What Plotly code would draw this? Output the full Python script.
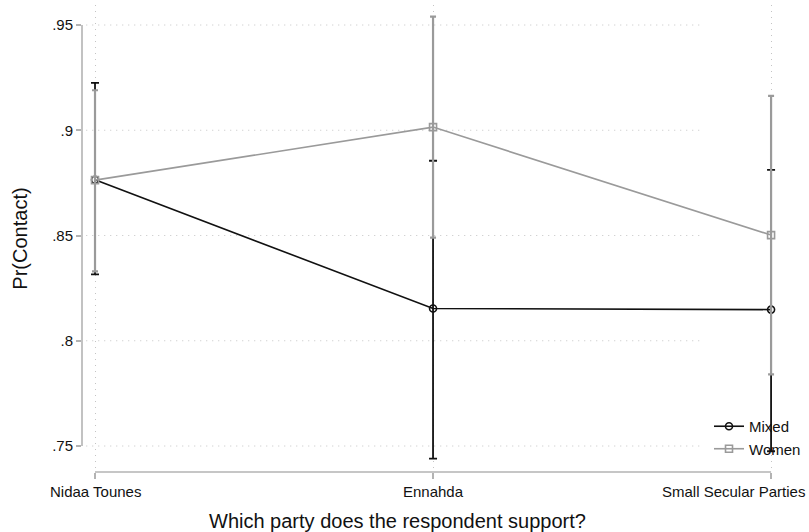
import plotly.graph_objects as go

categories = ["Nidaa Tounes", "Ennahda", "Small Secular Parties"]
mixed = [0.8765, 0.8153, 0.8148]
mixed_lo = [0.8315, 0.7440, 0.7475]
mixed_hi = [0.9225, 0.8855, 0.8812]
women = [0.8763, 0.9015, 0.8502]
women_lo = [0.8330, 0.8490, 0.7840]
women_hi = [0.9190, 0.9540, 0.9163]
ytick_vals = [0.75, 0.8, 0.85, 0.9, 0.95]
ytick_text = [".75", ".8", ".85", ".9", ".95"]
x_title = "Which party does the respondent support?"
y_title = "Pr(Contact)"

xs = list(range(len(categories)))
FONT = "Liberation Sans, Arial, Helvetica, sans-serif"
BLACK = "#111111"
GRAY = "#9a9a9a"
AXIS = "#b3b3b3"
GRID = "#c4c4c4"
DOT = "1px,5px"

fig = go.Figure()
fig.add_trace(go.Scatter(
    x=xs, y=mixed, mode="lines+markers", name="Mixed",
    line=dict(color=BLACK, width=1.6),
    marker=dict(symbol="circle-open", size=7, color=BLACK, line=dict(width=1.6)),
    error_y=dict(type="data", symmetric=False,
                 array=[h - v for h, v in zip(mixed_hi, mixed)],
                 arrayminus=[v - l for v, l in zip(mixed, mixed_lo)],
                 color=BLACK, thickness=1.8, width=4),
))
fig.add_trace(go.Scatter(
    x=xs, y=women, mode="lines+markers", name="Women",
    line=dict(color=GRAY, width=1.6),
    marker=dict(symbol="square-open", size=7, color=GRAY, line=dict(width=1.6)),
    error_y=dict(type="data", symmetric=False,
                 array=[h - v for h, v in zip(women_hi, women)],
                 arrayminus=[v - l for v, l in zip(women, women_lo)],
                 color=GRAY, thickness=2.2, width=3),
))

shapes = []
# y axis line spanning tick range
shapes.append(dict(type="line", xref="paper", yref="y", x0=0, x1=0,
                   y0=ytick_vals[0], y1=ytick_vals[-1],
                   line=dict(color=AXIS, width=1.6), layer="above"))
# x axis line spanning category range
shapes.append(dict(type="line", xref="x", yref="paper", x0=xs[0], x1=xs[-1],
                   y0=0, y1=0, line=dict(color=AXIS, width=1.6), layer="above"))
# horizontal dotted gridlines
for v in ytick_vals:
    shapes.append(dict(type="line", xref="paper", yref="y", x0=0.006, x1=0.873,
                       y0=v, y1=v, line=dict(color=GRID, width=1, dash=DOT),
                       layer="below"))

annotations = [dict(text=x_title, xref="paper", yref="paper", x=0.445, y=-0.105,
                    xanchor="center", yanchor="middle", showarrow=False,
                    font=dict(size=20))]
# category tick labels (last one kept inside the canvas, as in the reference)
for i, lab in enumerate(categories):
    last = i == len(categories) - 1
    annotations.append(dict(text=lab, xref="x", yref="paper", x=xs[i], y=-0.0428,
                            xanchor="right" if last else "center", yanchor="middle",
                            xshift=36 if last else 0, showarrow=False,
                            font=dict(size=15)))

fig.update_layout(
    width=809, height=532,
    margin=dict(l=82, r=19, t=5, b=60, autoexpand=False),
    paper_bgcolor="white", plot_bgcolor="white",
    font=dict(family=FONT, size=15, color="#111111"),
    shapes=shapes,
    annotations=annotations,
    showlegend=True,
    legend=dict(x=0.8856, y=0.1328, xanchor="left", yanchor="top",
                bgcolor="rgba(0,0,0,0)", font=dict(size=15),
                tracegroupgap=0, itemwidth=30),
    xaxis=dict(
        range=[-0.0385, 2.056], tickvals=xs, ticktext=["", "", ""],
        showline=False, zeroline=False, automargin=False,
        showgrid=True, gridcolor=GRID, griddash=DOT, gridwidth=1,
        ticks="outside", ticklen=6, tickcolor=AXIS, tickwidth=1.6,
        tickfont=dict(size=15),
    ),
    yaxis=dict(
        range=[0.73765, 0.9595], tickvals=ytick_vals, ticktext=ytick_text,
        showline=False, zeroline=False, showgrid=False, automargin=False,
        ticks="outside", ticklen=5, tickcolor=AXIS, tickwidth=1.6,
        tickfont=dict(size=15),
        title=dict(text=y_title, font=dict(size=20), standoff=19),
    ),
)

fig.write_html("out.html",
               config={"displayModeBar": False},
               post_script="document.body.style.margin='0';"
                           "document.body.style.overflow='hidden';")
